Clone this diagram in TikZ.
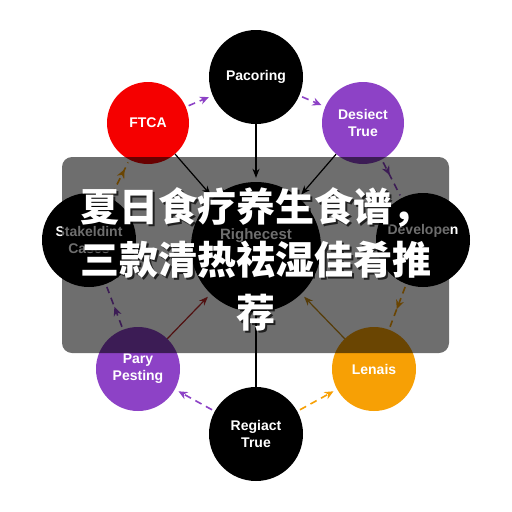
\documentclass[tikz,border=0pt]{standalone}
\usepackage{fontspec}
\setmainfont{Liberation Sans}
\newfontfamily\cjk{Noto Sans CJK SC}
\usetikzlibrary{arrows.meta,decorations.markings}
\definecolor{vio}{RGB}{141,66,198}
\definecolor{amber}{RGB}{247,160,5}
\definecolor{hotred}{RGB}{245,0,0}
\definecolor{rust}{RGB}{190,40,40}
\definecolor{ochre}{RGB}{200,140,20}

\begin{document}
\begin{tikzpicture}[
  x=1pt, y=-1pt,
  bubble/.style={circle, fill=black, text=white, align=center, inner sep=0pt,
    minimum size=94pt, font=\fontsize{14}{17}\selectfont\bfseries},
  arrow/.style={-{Stealth[length=9pt,width=7pt]}, line width=1.2pt, shorten >=4pt},
  ring/.style={dash pattern=on 7pt off 5pt, line width=1.6pt, shorten <=3pt, shorten >=4pt,
    -{Stealth[length=9pt,width=8pt]}},
  midtip/.style={dash pattern=on 7pt off 5pt, line width=1.6pt, shorten <=3pt, shorten >=3pt,
    postaction={decorate}, decoration={markings,
      mark=at position #1 with {\arrow{Stealth[length=9pt,width=8pt]}}}}
]
\useasboundingbox (0,0) rectangle (512,512);
\fill[white] (0,0) rectangle (512,512);

\node (ctr) [bubble, minimum size=130pt, font=\fontsize{15}{20}\selectfont\bfseries] at (256,247) {Righecest\\\strut};
\node (top) [bubble] at (256,77) {Pacoring};
\node (ftca) [bubble, fill=hotred, minimum size=82pt] at (148,123) {FTCA};
\node (desiect) [bubble, fill=vio, minimum size=82pt] at (363,123) {Desiect\\True};
\node (stake) [bubble] at (89,240) {Stakeldint\\Cases};
\node (devel) [bubble] at (423,240) {Developen\\\strut};
\node (pary) [bubble, fill=vio, minimum size=84pt] at (138,369) {Pary\\Pesting};
\node (lenais) [bubble, fill=amber, minimum size=84pt] at (374,369) {Lenais};
\node (regiact) [bubble] at (256,434) {Regiact\\True};

% spokes
\draw[arrow] (top) -- (ctr);
\draw[arrow] (ftca) -- (ctr);
\draw[arrow] (desiect) -- (ctr);
\draw[arrow, draw=rust] (pary) -- (ctr);
\draw[arrow, draw=ochre] (lenais) -- (ctr);
\draw[line width=1.2pt] (ctr) -- (regiact);

% outer ring
\draw[ring, draw=vio] (ftca) -- (top);
\draw[ring, draw=vio] (top) -- (desiect);
\draw[midtip=0.4, draw=vio] (desiect) -- (devel);
\draw[midtip=0.55, draw=amber] (devel) -- (lenais);
\draw[ring, draw=amber] (regiact) -- (lenais);
\draw[ring, draw=vio] (regiact) -- (pary);
\draw[midtip=0.5, draw=vio] (pary) -- (stake);
\draw[midtip=0.75, draw=amber] (stake) -- (ftca);

% banner
\fill[black, fill opacity=0.57, rounded corners=10pt] (62,157) rectangle (449,353);
\node (shade) [text=black, text opacity=0.7, align=center, font=\cjk\bfseries\fontsize{39}{53}\selectfont] at (258,261)
  {夏日食疗养生食谱，\\三款清热祛湿佳肴推\\荐};
\node (title) [text=white, align=center, font=\cjk\bfseries\fontsize{39}{53}\selectfont] at (256,259)
  {夏日食疗养生食谱，\\三款清热祛湿佳肴推\\荐};
\end{tikzpicture}
\end{document}
